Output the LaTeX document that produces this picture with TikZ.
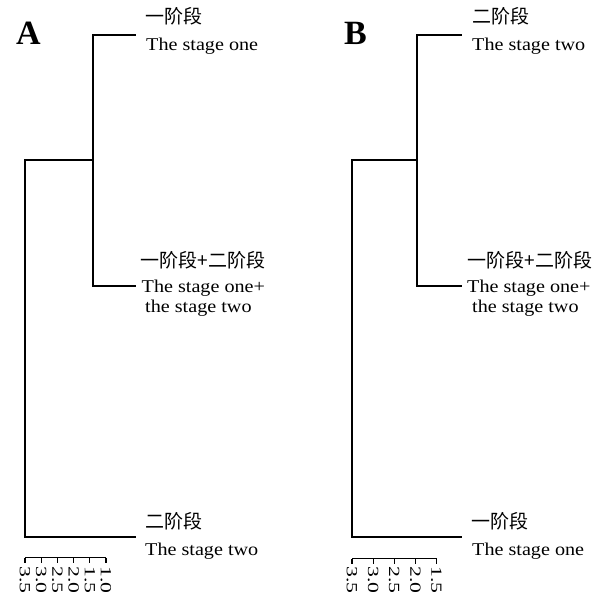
\documentclass[tikz,border=0pt]{standalone}
\usepackage{fontspec}
\usepackage{graphicx}
\setmainfont{Liberation Serif}
\newfontfamily\cjk{Noto Sans CJK SC}
\newcommand\sxw[1]{\scalebox{1.12}[1]{#1}}
\newcommand\tkw[1]{\scalebox{1.4}[1]{#1}}
\tikzset{
  tree/.style={line width=1.4pt, line cap=rect},
  lat/.style={font=\fontsize{18}{20}\selectfont, inner sep=0pt, anchor=base west},
  cjkt/.style={font=\cjk\fontsize{19}{22}\selectfont, inner sep=0pt, anchor=west},
  ticklab/.style={font=\fontsize{15.5}{15.5}\selectfont, inner sep=0pt, anchor=west, rotate=-90},
  panel/.style={font=\bfseries\fontsize{34}{34}\selectfont, inner sep=0pt, anchor=base},
  axisline/.style={line width=1.2pt}
}
\begin{document}
\begin{tikzpicture}[x=1pt,y=-1pt]
\useasboundingbox (0,0) rectangle (603,597);

% ---------------- Panel A ----------------
\node[panel] (labA) at (28.5,45) {A};
\coordinate (Aroot-t) at (25,160);
\coordinate (Aroot-b) at (25,537);
\coordinate (Ain-l) at (25,160);
\coordinate (Ain) at (93,160);
\coordinate (Ain-t) at (93,35);
\coordinate (Ain-b) at (93,286);
\coordinate (Aleaf1) at (135,35);
\coordinate (Aleaf2) at (135,286);
\coordinate (Aleaf3) at (135,537);
\draw[tree] (Aroot-t) -- (Aroot-b) -- (Aleaf3);
\draw[tree] (Ain-l) -- (Ain);
\draw[tree] (Aleaf1) -- (Ain-t) -- (Ain-b) -- (Aleaf2);

\node[cjkt] (A1c) at (145,16) {一阶段};
\node[lat] (A1e) at (146,50) {\sxw{The stage one}};
\node[cjkt] (A2c) at (140.5,260) {一阶段+二阶段};
\node[lat] (A2e) at (141.5,292) {\sxw{The stage one+}};
\node[lat] (A2f) at (145,312) {\sxw{the stage two}};
\node[cjkt] (A3c) at (145,521) {二阶段};
\node[lat] (A3e) at (145,555) {\sxw{The stage two}};

% axis A
\coordinate (Aax-l) at (25,557.5);
\coordinate (Aax-r) at (106,557.5);
\draw[axisline] (Aax-l) -- (Aax-r);
\foreach \xx/\lab [count=\i] in {25/3.5,41.2/3.0,57.4/2.5,73.6/2.0,89.8/1.5,106/1.0}{
  \coordinate (Atk\i) at (\xx,557.5);
  \coordinate (Atkb\i) at (\xx,563);
  \draw[axisline] (Atk\i) -- (Atkb\i);
  \node[ticklab] (Atl\i) at (\xx,566.5) {\tkw{\lab}};
}

% ---------------- Panel B ----------------
\node[panel] (labB) at (355.5,45) {B};
\coordinate (Broot-t) at (352,160);
\coordinate (Broot-b) at (352,537);
\coordinate (Bin-l) at (352,160);
\coordinate (Bin) at (417,160);
\coordinate (Bin-t) at (417,35);
\coordinate (Bin-b) at (417,286);
\coordinate (Bleaf1) at (461,35);
\coordinate (Bleaf2) at (461,286);
\coordinate (Bleaf3) at (461,537);
\draw[tree] (Broot-t) -- (Broot-b) -- (Bleaf3);
\draw[tree] (Bin-l) -- (Bin);
\draw[tree] (Bleaf1) -- (Bin-t) -- (Bin-b) -- (Bleaf2);

\node[cjkt] (B1c) at (472,16) {二阶段};
\node[lat] (B1e) at (472,50) {\sxw{The stage two}};
\node[cjkt] (B2c) at (467.5,260) {一阶段+二阶段};
\node[lat] (B2e) at (467,292) {\sxw{The stage one+}};
\node[lat] (B2f) at (472,312) {\sxw{the stage two}};
\node[cjkt] (B3c) at (471,521) {一阶段};
\node[lat] (B3e) at (472,555) {\sxw{The stage one}};

% axis B
\coordinate (Bax-l) at (352,558.5);
\coordinate (Bax-r) at (436.5,558.5);
\draw[axisline] (Bax-l) -- (Bax-r);
\foreach \xx/\lab [count=\i] in {352/3.5,373.1/3.0,394.2/2.5,415.4/2.0,436.5/1.5}{
  \coordinate (Btk\i) at (\xx,558.5);
  \coordinate (Btkb\i) at (\xx,564);
  \draw[axisline] (Btk\i) -- (Btkb\i);
  \node[ticklab] (Btl\i) at (\xx,566.5) {\tkw{\lab}};
}
\end{tikzpicture}
\end{document}
